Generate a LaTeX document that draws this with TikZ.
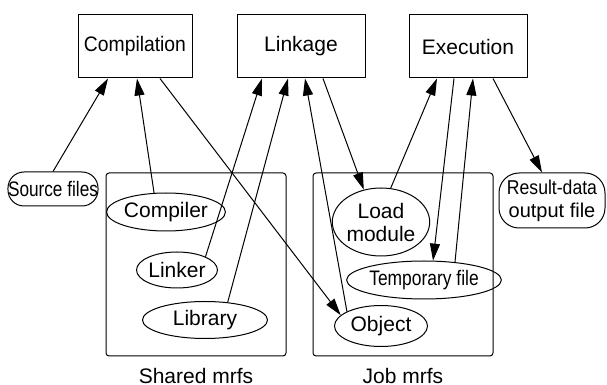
\documentclass[tikz,border=0pt]{standalone}
\usepackage{fontspec}
\setmainfont{Liberation Sans}
\usetikzlibrary{arrows.meta,shapes.geometric}
% squeezed labels
\newcommand{\narrow}[2][0.86]{\scalebox{#1}[1]{#2}}

\begin{document}
\begin{tikzpicture}[x=0.5pt,y=-0.5pt,line join=round,line width=0.5pt,
		>={Triangle[length=8.5pt,width=5pt]},font=\fontsize{10.5}{11.5}\selectfont,
		stage/.style={draw,minimum height=31.5pt,inner sep=0pt},
		file/.style={draw,ellipse,inner sep=0pt,align=center},
		ext/.style={draw,rounded corners=8pt,inner sep=0pt,align=center},
		mrfs/.style={draw,rounded corners=1.5pt,minimum width=90pt,minimum height=91.5pt}]
	\useasboundingbox (0,0) rectangle (607,385);
	% stages
	\node[stage,minimum width=57pt] (compilation) at (135,46.5) {\narrow[0.92]{Compilation}};
	\node[stage,minimum width=64pt] (linkage) at (301,46.5) {Linkage};
	\node[stage,minimum width=59pt] (execution) at (468,46.5) {Execution};
	% mrfs
	\node[mrfs] (shared) at (196,264.5) {};
	\node[mrfs] (job) at (403,264.5) {};
	\node[inner sep=0pt] (sharedlbl) at (196,376) {Shared mrfs};
	\node[inner sep=0pt] (joblbl) at (403,376) {Job mrfs};
	% outside files
	\node[ext,minimum width=45pt,minimum height=17pt] (source) at (53,189) {\narrow[0.82]{Source files}};
	\node[ext,minimum width=53pt,minimum height=27.5pt,rounded corners=10pt,
		font=\fontsize{10}{11.5}\selectfont] (result) at (552,200.5)
		{\narrow[0.88]{Result-data}\\output file};
	% files in shared mrfs
	\node[file,minimum width=46.5pt,minimum height=19pt] (compiler) at (166,212) {Compiler};
	\node[file,minimum width=33.5pt,minimum height=18pt] (linker) at (177,270) {Linker};
	\node[file,minimum width=62.5pt,minimum height=18.5pt] (library) at (205,320) {Library};
	% files in job mrfs
	\node[file,minimum width=42.5pt,minimum height=34pt] (load) at (381,222) {Load\\module};
	\node[file,minimum width=65.5pt,minimum height=19pt] (temp) at (424,280) {\narrow[0.83]{Temporary file}};
	\node[file,minimum width=46.5pt,minimum height=20.5pt] (object) at (381,326) {Object};
	% flows
	\draw[->] (source.north) -- ([xshift=-13.5pt]compilation.south);
	\draw[->] (compiler.122) -- ([xshift=1pt]compilation.south);
	\draw[->] ([xshift=12.5pt]compilation.south) -- (object.165);
	\draw[->] (linker.25) -- ([xshift=-19.5pt]linkage.south);
	\draw[->] (library.38) -- ([xshift=-6.5pt]linkage.south);
	\draw[->] (object.157) -- ([xshift=2pt]linkage.south);
	\draw[->] ([xshift=11pt]linkage.south) -- (load.118);
	\draw[->] (load.74) -- ([xshift=-15.5pt]execution.south);
	\draw[->] ([xshift=-7pt]execution.south) -- (temp.65);
	\draw[->] (temp.30) -- ([xshift=2.5pt]execution.south);
	\draw[->] ([xshift=12.5pt]execution.south) -- ([xshift=-5pt]result.north);
\end{tikzpicture}
\end{document}
